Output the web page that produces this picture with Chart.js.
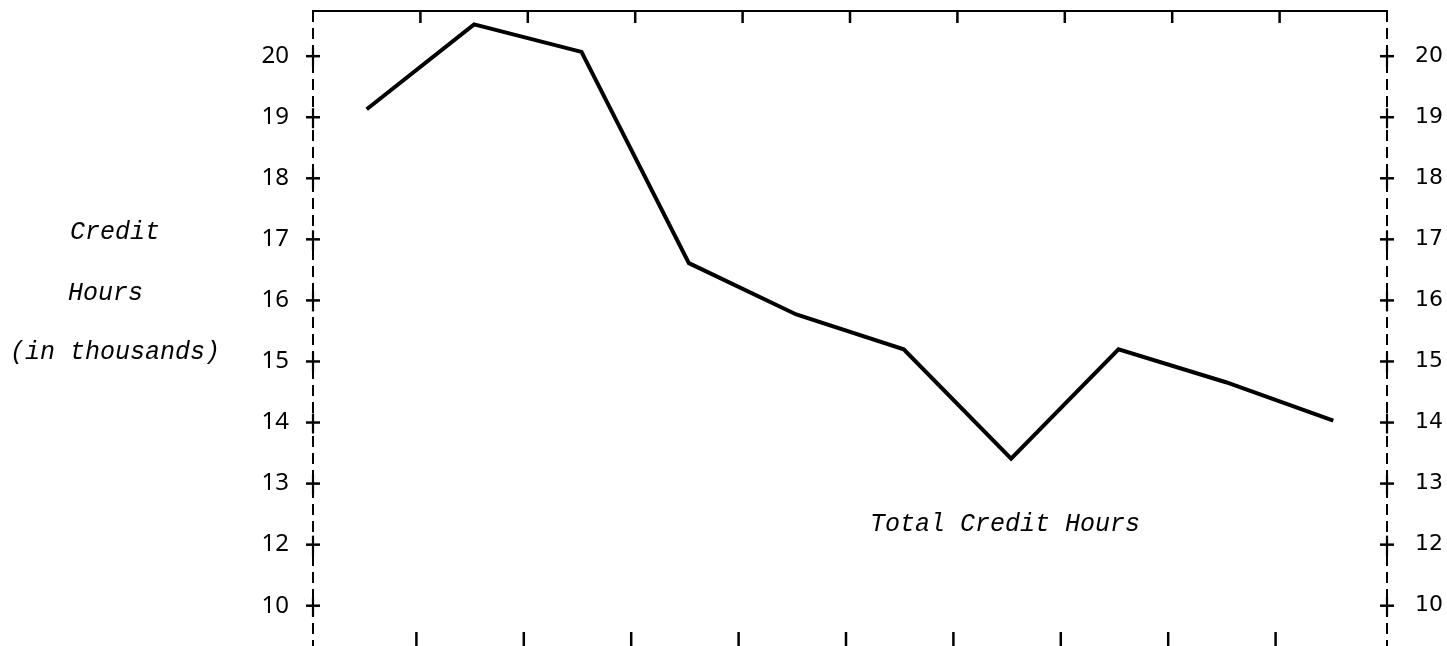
<!DOCTYPE html>
<html><head><meta charset="utf-8">
<script src="https://cdn.jsdelivr.net/npm/chart.js@4.4.0/dist/chart.umd.min.js"></script>
<style>html,body{margin:0;padding:0;background:#fff;overflow:hidden}
#wrap{position:relative;width:1447px;height:646px}</style></head>
<body><div id="wrap"><canvas id="c" width="1447" height="646"></canvas></div>
<script>
// ---- data ----
const categories = ['1','2','3','4','5','6','7','8','9','10'];
const creditHours = [19.13, 20.52, 20.07, 16.61, 15.77, 15.20, 13.41, 15.20, 14.66, 14.03];
const yTickValues = [11, 12, 13, 14, 15, 16, 17, 18, 19, 20];
const yTickLabels = ['10', '12', '13', '14', '15', '16', '17', '18', '19', '20'];
const yAxisTitleLines = ['Credit', 'Hours', '(in thousands)'];
const seriesLabel = 'Total Credit Hours';

const INK = '#000';
const typeFont = 'italic 25px "Liberation Mono", "DejaVu Sans Mono", monospace';

const noPad = s => { s.paddingTop = 0; s.paddingBottom = 0; s.paddingLeft = 0; s.paddingRight = 0; };

const decorations = {
  id: 'decorations',
  afterDatasetsDraw(chart) {
    const ctx = chart.ctx;
    const ca = chart.chartArea;
    const xs = chart.scales.x, yl = chart.scales.y, yr = chart.scales.y2;
    ctx.save();
    ctx.strokeStyle = INK;
    ctx.lineCap = 'butt';
    // dashed vertical axes
    ctx.lineWidth = 2;
    ctx.setLineDash([11, 6]);
    [ca.left, ca.right].forEach(ax => {
      ctx.beginPath(); ctx.moveTo(ax, ca.top); ctx.lineTo(ax, ca.bottom); ctx.stroke();
    });
    ctx.setLineDash([]);
    // tick marks on top and bottom edges at category boundaries
    ctx.lineWidth = 2.5;
    for (let i = 1; i < categories.length; i++) {
      const x = (xs.getPixelForValue(i - 1) + xs.getPixelForValue(i)) / 2;
      ctx.beginPath(); ctx.moveTo(x, ca.top); ctx.lineTo(x, ca.top + 12); ctx.stroke();
      ctx.beginPath(); ctx.moveTo(x - 4, ca.bottom); ctx.lineTo(x - 4, ca.bottom - 14); ctx.stroke();
    }
    // "+" marks on both vertical axes
    [[yl, ca.left], [yr, ca.right]].forEach(([s, ax]) => {
      yTickValues.forEach(v => {
        const y = s.getPixelForValue(v);
        ctx.lineWidth = 2.5;
        ctx.beginPath(); ctx.moveTo(ax - 7, y); ctx.lineTo(ax + 7, y); ctx.stroke();
        ctx.lineWidth = 2.2;
        ctx.beginPath(); ctx.moveTo(ax, y - 9); ctx.lineTo(ax, y + 11); ctx.stroke();
      });
    });
    // axis title (typewriter italic), baselines on the 17/16/15 rows
    ctx.fillStyle = INK;
    ctx.font = typeFont;
    ctx.textBaseline = 'alphabetic';
    ctx.textAlign = 'left';
    ctx.fillText(yAxisTitleLines[0], 70, yl.getPixelForValue(17));
    ctx.fillText(yAxisTitleLines[1], 68, yl.getPixelForValue(16));
    ctx.fillText(yAxisTitleLines[2], 10, yl.getPixelForValue(15) - 2);
    // series label
    ctx.fillText(seriesLabel, 870, yl.getPixelForValue(12.23));
    ctx.restore();
  }
};

new Chart(document.getElementById('c'), {
  type: 'line',
  data: {
    labels: categories,
    datasets: [{
      label: seriesLabel,
      data: creditHours,
      borderColor: INK,
      borderWidth: 4,
      pointRadius: 0,
      tension: 0,
      fill: false,
      yAxisID: 'y'
    }]
  },
  options: {
    responsive: false,
    animation: false,
    devicePixelRatio: 1,
    layout: { padding: 0 },
    plugins: { legend: { display: false }, tooltip: { enabled: false }, title: { display: false } },
    scales: {
      x: {
        type: 'category',
        position: 'top',
        offset: true,
        grid: { display: false, drawTicks: false },
        ticks: { display: false },
        border: { display: true, color: INK, width: 2 },
        afterFit: s => { s.height = 11; noPad(s); }
      },
      y: {
        position: 'left',
        min: 10.34, max: 20.74,
        afterBuildTicks: s => { s.ticks = yTickValues.map(v => ({ value: v })); },
        ticks: {
          callback: v => yTickLabels[yTickValues.indexOf(v)],
          font: { family: '"Noto Sans", sans-serif', size: 24 },
          color: INK, padding: 24
        },
        grid: { display: false, drawTicks: false },
        border: { display: false },
        afterFit: s => { s.width = 313; noPad(s); }
      },
      y2: {
        position: 'right',
        min: 10.34, max: 20.74,
        afterBuildTicks: s => { s.ticks = yTickValues.map(v => ({ value: v })); },
        ticks: {
          callback: v => yTickLabels[yTickValues.indexOf(v)],
          font: { family: '"DejaVu Sans", sans-serif', size: 22 },
          color: INK, padding: 28
        },
        grid: { display: false, drawTicks: false },
        border: { display: false },
        afterFit: s => { s.width = 60; noPad(s); }
      }
    }
  },
  plugins: [decorations]
});
</script>
</body></html>
